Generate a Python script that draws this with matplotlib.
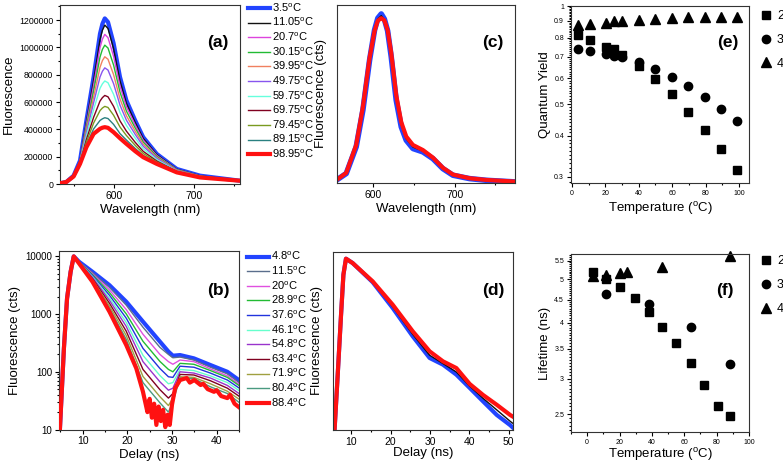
import matplotlib
matplotlib.use('Agg')
import matplotlib.pyplot as plt
from matplotlib.ticker import (MultipleLocator, FixedLocator, NullLocator, NullFormatter,
                               FixedFormatter, FormatStrFormatter)

plt.rcParams['font.family'] = ['Liberation Sans', 'DejaVu Sans']
plt.rcParams['mathtext.fontset'] = 'custom'
plt.rcParams['mathtext.rm'] = 'Liberation Sans'

# ---------------- (a) steady-state spectra vs temperature ----------------
wl_a = [532, 540, 549, 557, 565, 574, 582, 585, 588, 592, 599, 607, 615, 626, 636, 653, 678, 707, 757]
temps_a = ['3.5', '11.05', '20.7', '30.15', '39.95', '49.75', '59.75', '69.75', '79.45', '89.15', '98.95']
# intensities in thousands of counts
a_3_5 = [5, 15, 61, 171, 465, 783, 1100, 1172, 1212, 1185, 1030, 783, 612, 465, 343, 220, 110, 61, 24]
a_11 = [5, 15, 61, 170, 453, 757, 1057, 1125, 1163, 1138, 990, 755, 592, 451, 334, 215, 108, 60, 24]
a_20 = [5, 15, 60, 167, 436, 722, 998, 1060, 1095, 1071, 934, 716, 565, 432, 321, 209, 106, 59, 24]
a_30 = [5, 15, 60, 165, 417, 681, 929, 985, 1016, 995, 870, 672, 534, 410, 307, 202, 104, 58, 24]
a_40 = [5, 15, 59, 163, 396, 636, 854, 903, 931, 913, 800, 623, 500, 386, 291, 194, 101, 56, 24]
a_49 = [5, 15, 58, 160, 376, 594, 783, 825, 850, 834, 734, 577, 467, 363, 276, 187, 99, 55, 24]
a_59 = [5, 15, 58, 157, 352, 544, 700, 733, 754, 741, 656, 523, 429, 336, 258, 178, 96, 54, 24]
a_69 = [5, 15, 57, 154, 326, 488, 607, 632, 648, 638, 568, 462, 387, 305, 239, 168, 92, 52, 24]
a_79 = [5, 15, 56, 152, 306, 446, 537, 556, 568, 560, 503, 417, 355, 283, 224, 161, 90, 50, 24]
a_89 = [5, 15, 56, 149, 286, 403, 465, 477, 485, 479, 436, 369, 322, 260, 209, 153, 87, 49, 24]
a_99 = [5, 15, 55, 147, 269, 367, 404, 412, 416, 411, 379, 335, 294, 240, 196, 147, 85, 48, 24]
series_a = [a_3_5, a_11, a_20, a_30, a_40, a_49, a_59, a_69, a_79, a_89, a_99]
colors_a = ['#2244ff', '#111111', '#dd44dd', '#22bb33', '#f08060', '#8855ee',
            '#66ffdd', '#800020', '#7a9a20', '#2a8080', '#ff1111']

# ---------------- (b) decays vs temperature ----------------
delay_b = [4.9, 5.8, 6.5, 7.3, 8.0, 9.2, 12.2, 16.0, 19.75, 23.5, 27.3, 29.2, 30.2, 31.8, 34.9, 38.6, 42.4, 45.4]
temps_b = ['4.8', '11.5', '20', '28.9', '37.6', '46.1', '54.8', '63.4', '71.9', '80.4', '88.4']
rise_b = [10, 255, 1860, 5400, 10000]
b_4_8 = rise_b + [8060, 5400, 3170, 1640, 740, 333, 224, 190, 195, 171, 131, 100, 68]
b_11 = rise_b + [8000, 5220, 2910, 1430, 592, 265, 200, 175, 180, 160, 120, 92, 62]
b_20 = rise_b + [7950, 5020, 2620, 1200, 447, 200, 150, 135, 160, 150, 112, 85, 58]
b_29 = rise_b + [7900, 4830, 2360, 1010, 338, 151, 110, 100, 140, 135, 105, 80, 55]
b_38 = rise_b + [7850, 4650, 2120, 851, 255, 114, 82, 80, 125, 120, 95, 72, 50]
b_46 = rise_b + [7800, 4460, 1905, 716, 193, 86, 62, 65, 110, 105, 85, 65, 45]
b_55 = rise_b + [7750, 4300, 1730, 612, 150, 67, 48, 52, 100, 95, 78, 58, 40]
b_63 = rise_b + [7700, 4120, 1540, 506, 110, 49, 35, 42, 90, 88, 70, 52, 36]
b_72 = rise_b + [7650, 3960, 1390, 426, 83, 37, 26, 35, 82, 80, 62, 46, 32]
b_80 = rise_b + [7600, 3820, 1260, 365, 65, 29, 20, 30, 78, 76, 55, 42, 28]
delay_b_red = [4.9, 5.8, 6.5, 7.3, 8.0, 9.2, 12.2, 16, 19.75, 22, 23.5, 24, 24.5, 25, 25.5, 26, 26.5, 27, 27.5,
               28, 28.5, 29, 29.5, 30, 30.7, 31.8, 33.3, 34, 35, 36.4, 37, 38, 39.4, 40, 41, 42.4, 43, 44, 45.4]
b_88 = [10, 255, 1860, 5400, 10000, 7540, 3630, 1100, 291, 115, 45, 30, 20, 34, 16, 28, 12, 25, 14,
        22, 11, 18, 12, 27, 52, 72, 78, 65, 72, 59, 62, 50, 45, 48, 38, 35, 40, 28, 23]
series_b = [b_4_8, b_11, b_20, b_29, b_38, b_46, b_55, b_63, b_72, b_80]
colors_b = ['#2244ff', '#5a6e8c', '#e050e0', '#22bb33', '#2233dd', '#66ffcc',
            '#9933cc', '#800020', '#a0a040', '#4a9a80', '#ff1111']

# ---------------- (c) normalised spectra ----------------
wl_c = [555.0, 567.3, 579.5, 587.7, 595.9, 602, 606, 610.2, 614, 618, 622.4, 628.5, 634.7, 640.8, 649,
        661.2, 673.5, 685.7, 698, 718.4, 738.8, 775.6]
c_blue = [0.016, 0.056, 0.214, 0.431, 0.727, 0.905, 0.975, 1.0, 0.97, 0.9, 0.747, 0.49, 0.332, 0.253,
          0.204, 0.184, 0.144, 0.085, 0.046, 0.026, 0.016, 0.006]
c_black = [0.016, 0.058, 0.218, 0.44, 0.733, 0.903, 0.97, 0.99, 0.965, 0.9, 0.757, 0.505, 0.345, 0.262,
           0.213, 0.189, 0.147, 0.087, 0.048, 0.027, 0.017, 0.007]
c_red = [0.016, 0.06, 0.225, 0.45, 0.74, 0.9, 0.96, 0.975, 0.962, 0.905, 0.77, 0.52, 0.36, 0.275,
         0.225, 0.195, 0.15, 0.09, 0.05, 0.028, 0.018, 0.008]

# ---------------- (d) decays ----------------
delay_d = [5.7, 6.5, 7.35, 7.95, 8.6, 10.3, 15.4, 20.5, 25.6, 29.9, 33.3, 36.7, 40.1, 43.5, 47, 50.4, 51]
d_blue = [10, 90, 984, 4850, 9190, 7720, 3600, 1285, 415, 175, 134, 90, 53, 31, 18, 12, 11]
d_black = [10, 90, 984, 4850, 9190, 7720, 3650, 1350, 450, 195, 140, 100, 57, 35, 22, 14, 13]
d_red = [10, 90, 984, 4850, 9190, 7720, 3720, 1465, 507, 228, 153, 117, 62, 40, 27, 18, 17]

# ---------------- (e) quantum yield ----------------
temp_e = [3.5, 11.05, 20.7, 25.5, 30.15, 39.95, 49.75, 59.75, 69.75, 79.45, 89.15, 98.95]
qy_2 = [0.815, 0.786, 0.750, 0.737, 0.708, 0.654, 0.597, 0.537, 0.475, 0.418, 0.365, 0.314]
qy_3 = [0.738, 0.729, 0.713, 0.703, 0.696, 0.672, 0.641, 0.606, 0.568, 0.527, 0.485, 0.443]
qy_4 = [0.874, 0.881, 0.889, 0.898, 0.898, 0.906, 0.912, 0.919, 0.923, 0.927, 0.927, 0.927]

# ---------------- (f) lifetime ----------------
temp_f2 = [3.4, 11.7, 20.5, 29.3, 37.9, 46.5, 54.9, 63.9, 72.1, 80.7, 88.5]
tau_2 = [5.20, 5.01, 4.81, 4.54, 4.23, 3.92, 3.60, 3.25, 2.91, 2.61, 2.48]
temp_f3 = [11.7, 37.9, 63.9, 88.5]
tau_3 = [4.64, 4.40, 3.92, 3.23]
temp_f4 = [3.4, 11.7, 20.5, 24.6, 46.5, 88.5]
tau_4 = [5.07, 5.11, 5.16, 5.20, 5.32, 5.64]

W, H = 783, 463
fig = plt.figure(figsize=(W / 100, H / 100), dpi=100)


def box(l, t, r, b):
    return fig.add_axes([l / W, (H - b) / H, (r - l) / W, (b - t) / H])


def deg(t):
    return t + r'$^{\mathrm{o}}$C'


def style(ax, xsize=7.5, ysize=7):
    ax.tick_params(which='both', direction='out', width=0.8, pad=2)
    ax.tick_params(axis='x', labelsize=xsize)
    ax.tick_params(axis='y', labelsize=ysize)
    ax.tick_params(which='major', length=3)
    ax.tick_params(which='minor', length=1.5)
    for s in ax.spines.values():
        s.set_linewidth(0.8)
        s.set_color('#333333')


lab = dict(fontsize=9.5)
panel = dict(fontsize=12.5, fontweight='bold', ha='center', va='center')
leg_kw = dict(loc='upper left', frameon=False, fontsize=8, handlelength=2.0,
              handletextpad=0.15, labelspacing=0.2, borderaxespad=0)
mk_leg = dict(loc='upper left', frameon=False, fontsize=9, handlelength=1.0,
              handletextpad=0.4, labelspacing=0.95, borderaxespad=0)

# (a)
ax1 = box(60, 5, 240, 184)
for i, (y, c) in enumerate(zip(series_a, colors_a)):
    lw = 3.0 if i in (0, 10) else 1.0
    ax1.plot(wl_a, [v * 1000 for v in y], color=c, lw=lw, label=deg(temps_a[i]),
             zorder=3 if i == 10 else 2)
ax1.set_xlim(532, 757)
ax1.set_ylim(0, 1310000)
ax1.xaxis.set_major_locator(MultipleLocator(100))
ax1.xaxis.set_minor_locator(MultipleLocator(50))
ax1.yaxis.set_major_locator(MultipleLocator(200000))
ax1.yaxis.set_minor_locator(MultipleLocator(100000))
ax1.yaxis.set_major_formatter(FormatStrFormatter('%d'))
style(ax1, ysize=6.3)
ax1.set_xlabel('Wavelength (nm)', labelpad=2, **lab)
ax1.set_ylabel('Fluorescence', labelpad=3, **lab)
ax1.text((218 - 60) / 180, (184 - 43) / 179, '(a)', transform=ax1.transAxes, **panel)
ax1.legend(bbox_to_anchor=(1.02, 1.045), **leg_kw)

# (b)
ax2 = box(59, 251, 239, 429.5)
for i, (y, c) in enumerate(zip(series_b, colors_b)):
    lw = 3.0 if i == 0 else 1.0
    ax2.plot(delay_b, y, color=c, lw=lw, label=deg(temps_b[i]))
ax2.plot(delay_b_red, b_88, color=colors_b[10], lw=3.0, label=deg(temps_b[10]), zorder=3)
ax2.set_yscale('log')
ax2.set_xlim(4.7, 45)
ax2.set_ylim(10, 12400)
ax2.xaxis.set_major_locator(MultipleLocator(10))
ax2.xaxis.set_minor_locator(MultipleLocator(5))
ax2.yaxis.set_major_locator(FixedLocator([10, 100, 1000, 10000]))
ax2.yaxis.set_major_formatter(FixedFormatter(['10', '100', '1000', '10000']))
ax2.yaxis.set_minor_formatter(NullFormatter())
style(ax2)
ax2.set_xlabel('Delay (ns)', labelpad=2, **lab)
ax2.set_ylabel('Fluorescence (cts)', labelpad=3, **lab)
ax2.text((218 - 59) / 180, (429.5 - 290) / 178.5, '(b)', transform=ax2.transAxes, **panel)
ax2.legend(bbox_to_anchor=(1.02, 1.03), **leg_kw)

# (c)
ax3 = box(337, 5, 515, 183)
ax3.plot(wl_c, c_blue, color='#2244ff', lw=4.0)
ax3.plot(wl_c, c_black, color='#111111', lw=1.0)
ax3.plot(wl_c, c_red, color='#ff1111', lw=3.0)
ax3.set_xlim(556, 774)
ax3.set_ylim(0, 1.053)
ax3.xaxis.set_major_locator(MultipleLocator(100))
ax3.xaxis.set_minor_locator(MultipleLocator(50))
ax3.yaxis.set_major_locator(NullLocator())
style(ax3)
ax3.set_xlabel('Wavelength (nm)', labelpad=2, **lab)
ax3.set_ylabel('Fluorescence (cts)', labelpad=7, **lab)
ax3.text((493 - 337) / 178, (183 - 43) / 178, '(c)', transform=ax3.transAxes, **panel)

# (d)
ax4 = box(333, 252, 512.5, 429.7)
ax4.plot(delay_d, d_blue, color='#2244ff', lw=3.0)
ax4.plot(delay_d, d_black, color='#111111', lw=1.0)
ax4.plot(delay_d, d_red, color='#ff1111', lw=3.0)
ax4.set_yscale('log')
ax4.set_xlim(5.3, 51)
ax4.set_ylim(10, 12000)
ax4.xaxis.set_major_locator(MultipleLocator(10))
ax4.xaxis.set_minor_locator(MultipleLocator(5))
ax4.yaxis.set_major_locator(NullLocator())
ax4.yaxis.set_minor_locator(NullLocator())
style(ax4)
ax4.set_xlabel('Delay (ns)', labelpad=0, **lab)
ax4.set_ylabel('Fluorescence (cts)', labelpad=7, **lab)
ax4.text((493 - 333) / 179.5, (429.7 - 290) / 177.7, '(d)', transform=ax4.transAxes, **panel)

# (e)
ax5 = box(571, 6, 749, 183)
ax5.plot(temp_e, qy_2, 's', color='black', ms=5.5, label='2')
ax5.plot(temp_e, qy_3, 'o', color='black', ms=6, label='3')
ax5.plot(temp_e, qy_4, '^', color='black', ms=6.5, label='4')
ax5.set_yscale('log')
ax5.set_xlim(-0.5, 106)
ax5.set_ylim(0.287, 1.0)
ax5.xaxis.set_major_locator(MultipleLocator(20))
ax5.xaxis.set_minor_locator(MultipleLocator(10))
qy_ticks = [0.3, 0.4, 0.5, 0.6, 0.7, 0.8, 0.9, 1]
ax5.yaxis.set_major_locator(FixedLocator(qy_ticks))
ax5.yaxis.set_major_formatter(FixedFormatter([str(t) for t in qy_ticks]))
ax5.yaxis.set_minor_locator(FixedLocator([0.29 + 0.01 * k for k in range(71)]))
ax5.yaxis.set_minor_formatter(NullFormatter())
style(ax5, xsize=5, ysize=5)
ax5.set_xlabel('Temperature (' + r'$^{\mathrm{o}}$C)', labelpad=2, **lab)
ax5.set_ylabel('Quantum Yield', labelpad=2, **lab)
ax5.text((728 - 571) / 178, (183 - 43) / 177, '(e)', transform=ax5.transAxes, **panel)
ax5.legend(bbox_to_anchor=(1.03, 1.005), **mk_leg)

# (f)
ax6 = box(571, 254, 749, 432)
ax6.plot(temp_f2, tau_2, 's', color='black', ms=5.5, label='2')
ax6.plot(temp_f3, tau_3, 'o', color='black', ms=6, label='3')
ax6.plot(temp_f4, tau_4, '^', color='black', ms=6.5, label='4', clip_on=False)
ax6.set_yscale('log')
ax6.set_xlim(-10, 100)
ax6.set_ylim(2.28, 5.69)
ax6.xaxis.set_major_locator(MultipleLocator(20))
ax6.xaxis.set_minor_locator(MultipleLocator(10))
tau_ticks = [2.5, 3, 3.5, 4, 4.5, 5, 5.5]
ax6.yaxis.set_major_locator(FixedLocator(tau_ticks))
ax6.yaxis.set_major_formatter(FixedFormatter([('%g' % t) for t in tau_ticks]))
ax6.yaxis.set_minor_locator(FixedLocator([2.3 + 0.05 * k for k in range(68)]))
ax6.yaxis.set_minor_formatter(NullFormatter())
style(ax6, xsize=5, ysize=5)
ax6.set_xlabel('Temperature (' + r'$^{\mathrm{o}}$C)', labelpad=0, **lab)
ax6.set_ylabel('Lifetime (ns)', labelpad=2, **lab)
ax6.text((725 - 571) / 178, (432 - 290) / 178, '(f)', transform=ax6.transAxes, **panel)
ax6.legend(bbox_to_anchor=(1.03, 1.02), **mk_leg)

fig.savefig('out.png', dpi=100)
